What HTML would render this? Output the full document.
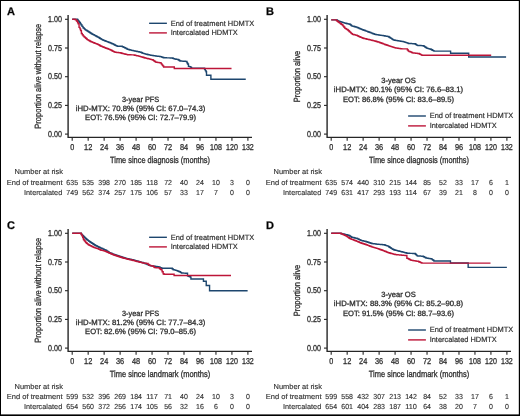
<!DOCTYPE html>
<html><head><meta charset="utf-8"><style>
html,body{margin:0;padding:0;background:#fff;overflow:hidden;}
svg{display:block;will-change:transform;}
text{font-family:"Liberation Sans", sans-serif;stroke:#2e2e2e;stroke-width:0.3px;text-rendering:geometricPrecision;}
.tt{stroke-width:0.12px;}
.tl{stroke-width:0.18px;}
</style></head><body>
<svg width="520" height="416" viewBox="0 0 520 416">
<rect x="0" y="0" width="520" height="416" fill="#000"/>
<rect x="1" y="1" width="517.8" height="413.4" fill="#fff"/>
<text x="6.90" y="14.90" font-size="11" font-weight="bold" fill="#000">A</text>
<path d="M68.10,15.00V137.40H252.00" fill="none" stroke="#262626" stroke-width="1.4"/>
<path d="M65.00,134.10H68" stroke="#262626" stroke-width="1.1"/>
<text x="61.90" y="136.70" font-size="8.6" text-anchor="end" textLength="13.9" lengthAdjust="spacingAndGlyphs" fill="#2e2e2e">0.00</text>
<path d="M65.00,105.40H68" stroke="#262626" stroke-width="1.1"/>
<text x="61.90" y="108.00" font-size="8.6" text-anchor="end" textLength="13.9" lengthAdjust="spacingAndGlyphs" fill="#2e2e2e">0.25</text>
<path d="M65.00,76.70H68" stroke="#262626" stroke-width="1.1"/>
<text x="61.90" y="79.30" font-size="8.6" text-anchor="end" textLength="13.9" lengthAdjust="spacingAndGlyphs" fill="#2e2e2e">0.50</text>
<path d="M65.00,48.00H68" stroke="#262626" stroke-width="1.1"/>
<text x="61.90" y="50.60" font-size="8.6" text-anchor="end" textLength="13.9" lengthAdjust="spacingAndGlyphs" fill="#2e2e2e">0.75</text>
<path d="M65.00,19.30H68" stroke="#262626" stroke-width="1.1"/>
<text x="61.90" y="21.90" font-size="8.6" text-anchor="end" textLength="13.9" lengthAdjust="spacingAndGlyphs" fill="#2e2e2e">1.00</text>
<path d="M72.20,137.40V140.70" stroke="#262626" stroke-width="1.1"/>
<text x="72.20" y="149.50" font-size="8.5" text-anchor="middle" textLength="4.0" lengthAdjust="spacingAndGlyphs" fill="#2e2e2e">0</text>
<path d="M88.17,137.40V140.70" stroke="#262626" stroke-width="1.1"/>
<text x="88.17" y="149.50" font-size="8.5" text-anchor="middle" textLength="8.2" lengthAdjust="spacingAndGlyphs" fill="#2e2e2e">12</text>
<path d="M104.14,137.40V140.70" stroke="#262626" stroke-width="1.1"/>
<text x="104.14" y="149.50" font-size="8.5" text-anchor="middle" textLength="8.2" lengthAdjust="spacingAndGlyphs" fill="#2e2e2e">24</text>
<path d="M120.12,137.40V140.70" stroke="#262626" stroke-width="1.1"/>
<text x="120.12" y="149.50" font-size="8.5" text-anchor="middle" textLength="8.2" lengthAdjust="spacingAndGlyphs" fill="#2e2e2e">36</text>
<path d="M136.09,137.40V140.70" stroke="#262626" stroke-width="1.1"/>
<text x="136.09" y="149.50" font-size="8.5" text-anchor="middle" textLength="8.2" lengthAdjust="spacingAndGlyphs" fill="#2e2e2e">48</text>
<path d="M152.06,137.40V140.70" stroke="#262626" stroke-width="1.1"/>
<text x="152.06" y="149.50" font-size="8.5" text-anchor="middle" textLength="8.2" lengthAdjust="spacingAndGlyphs" fill="#2e2e2e">60</text>
<path d="M168.03,137.40V140.70" stroke="#262626" stroke-width="1.1"/>
<text x="168.03" y="149.50" font-size="8.5" text-anchor="middle" textLength="8.2" lengthAdjust="spacingAndGlyphs" fill="#2e2e2e">72</text>
<path d="M184.00,137.40V140.70" stroke="#262626" stroke-width="1.1"/>
<text x="184.00" y="149.50" font-size="8.5" text-anchor="middle" textLength="8.2" lengthAdjust="spacingAndGlyphs" fill="#2e2e2e">84</text>
<path d="M199.98,137.40V140.70" stroke="#262626" stroke-width="1.1"/>
<text x="199.98" y="149.50" font-size="8.5" text-anchor="middle" textLength="8.2" lengthAdjust="spacingAndGlyphs" fill="#2e2e2e">96</text>
<path d="M215.95,137.40V140.70" stroke="#262626" stroke-width="1.1"/>
<text x="215.95" y="149.50" font-size="8.5" text-anchor="middle" textLength="11.8" lengthAdjust="spacingAndGlyphs" fill="#2e2e2e">108</text>
<path d="M231.92,137.40V140.70" stroke="#262626" stroke-width="1.1"/>
<text x="231.92" y="149.50" font-size="8.5" text-anchor="middle" textLength="11.8" lengthAdjust="spacingAndGlyphs" fill="#2e2e2e">120</text>
<path d="M247.89,137.40V140.70" stroke="#262626" stroke-width="1.1"/>
<text x="247.89" y="149.50" font-size="8.5" text-anchor="middle" textLength="11.8" lengthAdjust="spacingAndGlyphs" fill="#2e2e2e">132</text>
<text x="160.00" y="162.90" font-size="9" text-anchor="middle" textLength="99.8" lengthAdjust="spacingAndGlyphs" fill="#2e2e2e">Time since diagnosis (months)</text>
<text transform="translate(40.90,76.20) rotate(-90)" font-size="9" text-anchor="middle" textLength="105.0" lengthAdjust="spacingAndGlyphs" fill="#2e2e2e">Proportion alive without relapse</text>
<text x="140.60" y="101.90" font-size="7.7" text-anchor="middle" textLength="37.2" lengthAdjust="spacingAndGlyphs" fill="#2e2e2e">3-year PFS</text>
<text x="140.60" y="110.90" font-size="7.7" text-anchor="middle" textLength="129.6" lengthAdjust="spacingAndGlyphs" fill="#2e2e2e">iHD-MTX: 70.8% (95% CI: 67.0–74.3)</text>
<text x="140.60" y="120.00" font-size="7.7" text-anchor="middle" textLength="111.1" lengthAdjust="spacingAndGlyphs" fill="#2e2e2e">EOT: 76.5% (95% CI: 72.7–79.9)</text>
<path d="M72.20,19.30H77.26H77.56V20.05H78.16V20.79H78.46H78.86V21.77H79.65V22.74H80.05H80.42V23.89H81.15V25.04H81.52H82.02V26.36H83.01V27.68H83.51H83.98V28.66H84.91V29.63H85.38H85.76V30.09H86.52V30.55H87.29V31.01H88.06V31.47H88.44H88.82V31.99H89.59V32.50H90.35V33.02H91.12V33.54H91.50H91.88V33.94H92.65V34.34H93.41V34.74H94.18V35.14H94.56H94.96V35.58H95.76V36.01H96.56V36.45H97.36V36.89H98.15V37.32H98.55H98.93V37.78H99.67V38.24H100.42V38.70H101.16V39.16H101.91V39.62H102.28H102.72V40.00H103.61V40.39H104.50V40.77H104.94H105.33V41.05H106.11V41.34H106.88V41.63H107.66V41.92H108.44V42.20H109.21V42.49H109.60H109.98V42.80H110.75V43.12H111.51V43.43H112.28V43.75H112.66H113.05V44.15H113.83V44.56H114.60V44.96H115.38V45.36H116.16V45.76H116.93V46.16H117.32H117.70V46.19H118.45V46.20H119.21V46.22H119.96V46.24H120.71V46.26H121.47V46.28H121.85H122.25V46.65H123.04V47.02H123.84V47.40H124.64V47.77H125.04H125.42V48.17H126.19V48.57H126.95V48.98H127.72V49.38H128.10H128.49V49.57H129.27V49.76H130.04V49.95H130.82V50.15H131.60V50.33H132.37V50.53H132.76H133.14V50.67H133.89V50.84H134.65V50.98H135.40V51.13H136.15V51.29H136.91V51.44H137.29H137.67V51.60H138.44V51.77H139.22V51.93H139.99V52.09H140.76V52.25H141.15H141.55V52.71H142.34V53.17H142.74H143.16V53.40H143.98V53.63H144.81V53.85H145.63V54.08H146.46V54.31H146.87H147.32V54.52H148.22V54.72H149.12V54.92H150.01V55.12H150.46H150.86V55.24H151.66V55.38H152.46V55.51H153.26V55.65H154.06V55.77H154.86V55.91H155.65V56.04H156.05H156.45V56.13H157.25V56.23H158.05V56.32H158.85V56.41H159.65V56.52H160.45V56.61H160.84H161.26V56.90H162.09V57.18H162.92V57.47H163.76V57.76H164.17H164.58V57.78H165.39V57.80H166.20V57.83H167.01V57.85H167.83V57.87H168.64V57.90H169.45V57.92H170.26V57.94H171.07V57.96H171.89V57.99H172.29H172.67V58.30H173.42V58.60H174.18V58.91H174.55H175.00V59.04H175.90V59.19H176.80V59.34H177.70V59.48H178.15H178.52V59.97H179.28V60.48H180.03V60.97H180.41H180.80V61.03H181.58V61.09H182.37V61.14H183.15V61.20H183.93V61.26H184.71V61.32H185.49V61.37H186.28V61.43H186.67H186.97V62.75H187.56V64.07H187.86H188.46V66.37H189.06H189.46V66.60H190.26V66.83H190.66H190.96V67.52H191.56V68.20H191.86H204.24H204.59V69.39H205.30V70.58H206.01V71.76H206.36H206.50V75.21H206.63H210.89H210.89V79.23H245.76" fill="none" stroke="#1d466e" stroke-width="1.4" stroke-linejoin="miter"/>
<path d="M72.20,19.30H74.60H74.90V19.47H75.49V19.64H75.79H76.16V20.45H76.89V21.25H77.26H77.56V22.51H78.16V23.78H78.46H79.05V27.34H79.65H79.95V28.89H80.55V30.44H80.85H81.38V33.54H81.92H82.32V34.68H83.11V35.83H83.51H83.98V36.75H84.91V37.67H85.38H85.75V38.32H86.51V38.97H87.26V39.62H87.64H88.04V40.08H88.84V40.54H89.64V41.00H90.43V41.46H90.83H91.21V41.78H91.95V42.10H92.70V42.42H93.44V42.74H94.19V43.06H94.56H94.96V43.35H95.76V43.64H96.56V43.92H97.36V44.21H97.76H98.14V44.65H98.90V45.07H99.67V45.50H100.43V45.93H100.82H101.23V46.28H102.05V46.62H102.88V46.97H103.70V47.31H104.53V47.66H104.94H105.33V47.94H106.11V48.23H106.88V48.52H107.66V48.80H108.44V49.09H109.21V49.38H109.60H109.99V49.77H110.77V50.17H111.55V50.56H112.33V50.95H113.11V51.34H113.89V51.74H114.67V52.13H115.06H115.44V52.24H116.20V52.33H116.96V52.43H117.72V52.52H118.48V52.63H119.24V52.72H120.00V52.82H120.38H120.77V53.03H121.54V53.23H122.31V53.44H123.08V53.65H123.86V53.85H124.24H124.63V54.04H125.40V54.22H126.17V54.41H126.94V54.59H127.72V54.77H128.10H128.49V54.78H129.27V54.81H130.05V54.82H130.83V54.84H131.61V54.85H132.39V54.88H133.17V54.89H133.56H133.94V55.06H134.69V55.23H135.44V55.40H136.20V55.58H136.95V55.75H137.71V55.92H138.08H138.55V56.15H139.48V56.38H139.95H140.34V56.61H141.11V56.84H141.89V57.07H142.67V57.30H143.44V57.53H144.22V57.76H144.61H144.99V57.95H145.77V58.14H146.55V58.33H147.32V58.53H148.10V58.71H148.88V58.91H149.26H149.70V59.14H150.56V59.37H151.43V59.59H152.29V59.82H152.73H153.14V60.40H153.97V60.97H154.81V61.55H155.64V62.12H156.05H156.45V62.26H157.25V62.38H158.05V62.52H158.85V62.66H159.65V62.79H160.45V62.92H160.84H161.22V63.92H161.98V64.91H162.73V65.91H163.11H163.64V66.94H164.17H174.02H174.29V68.43H174.55H231.52" fill="none" stroke="#bd1538" stroke-width="1.4" stroke-linejoin="miter"/>
<path d="M149.10,23.30h17.8" stroke="#1d466e" stroke-width="1.4"/>
<path d="M149.10,32.90h17.8" stroke="#bd1538" stroke-width="1.4"/>
<text class="tl" x="170.70" y="25.60" font-size="7.6" textLength="83.6" lengthAdjust="spacingAndGlyphs" fill="#2e2e2e">End of treatment HDMTX</text>
<text class="tl" x="170.70" y="35.00" font-size="7.6" textLength="67.1" lengthAdjust="spacingAndGlyphs" fill="#2e2e2e">Intercalated HDMTX</text>
<text class="tt" x="63.00" y="173.80" font-size="7.3" text-anchor="end" textLength="48.5" lengthAdjust="spacingAndGlyphs" fill="#2e2e2e">Number at risk</text>
<text class="tt" x="62.60" y="184.50" font-size="7.3" text-anchor="end" textLength="55.9" lengthAdjust="spacingAndGlyphs" fill="#2e2e2e">End of treatment</text>
<text class="tt" x="62.20" y="194.80" font-size="7.3" text-anchor="end" textLength="38.2" lengthAdjust="spacingAndGlyphs" fill="#2e2e2e">Intercalated</text>
<text class="tt" x="72.20" y="184.50" font-size="7.3" text-anchor="middle" textLength="11.7" lengthAdjust="spacingAndGlyphs" fill="#2e2e2e">635</text>
<text class="tt" x="88.17" y="184.50" font-size="7.3" text-anchor="middle" textLength="11.7" lengthAdjust="spacingAndGlyphs" fill="#2e2e2e">535</text>
<text class="tt" x="104.14" y="184.50" font-size="7.3" text-anchor="middle" textLength="11.7" lengthAdjust="spacingAndGlyphs" fill="#2e2e2e">398</text>
<text class="tt" x="120.12" y="184.50" font-size="7.3" text-anchor="middle" textLength="11.7" lengthAdjust="spacingAndGlyphs" fill="#2e2e2e">270</text>
<text class="tt" x="136.09" y="184.50" font-size="7.3" text-anchor="middle" textLength="11.7" lengthAdjust="spacingAndGlyphs" fill="#2e2e2e">185</text>
<text class="tt" x="152.06" y="184.50" font-size="7.3" text-anchor="middle" textLength="11.7" lengthAdjust="spacingAndGlyphs" fill="#2e2e2e">118</text>
<text class="tt" x="168.03" y="184.50" font-size="7.3" text-anchor="middle" textLength="7.8" lengthAdjust="spacingAndGlyphs" fill="#2e2e2e">72</text>
<text class="tt" x="184.00" y="184.50" font-size="7.3" text-anchor="middle" textLength="7.8" lengthAdjust="spacingAndGlyphs" fill="#2e2e2e">40</text>
<text class="tt" x="199.98" y="184.50" font-size="7.3" text-anchor="middle" textLength="7.8" lengthAdjust="spacingAndGlyphs" fill="#2e2e2e">24</text>
<text class="tt" x="215.95" y="184.50" font-size="7.3" text-anchor="middle" textLength="7.8" lengthAdjust="spacingAndGlyphs" fill="#2e2e2e">10</text>
<text class="tt" x="231.92" y="184.50" font-size="7.3" text-anchor="middle" textLength="3.9" lengthAdjust="spacingAndGlyphs" fill="#2e2e2e">3</text>
<text class="tt" x="247.89" y="184.50" font-size="7.3" text-anchor="middle" textLength="3.9" lengthAdjust="spacingAndGlyphs" fill="#2e2e2e">0</text>
<text class="tt" x="72.20" y="194.80" font-size="7.3" text-anchor="middle" textLength="11.7" lengthAdjust="spacingAndGlyphs" fill="#2e2e2e">749</text>
<text class="tt" x="88.17" y="194.80" font-size="7.3" text-anchor="middle" textLength="11.7" lengthAdjust="spacingAndGlyphs" fill="#2e2e2e">562</text>
<text class="tt" x="104.14" y="194.80" font-size="7.3" text-anchor="middle" textLength="11.7" lengthAdjust="spacingAndGlyphs" fill="#2e2e2e">374</text>
<text class="tt" x="120.12" y="194.80" font-size="7.3" text-anchor="middle" textLength="11.7" lengthAdjust="spacingAndGlyphs" fill="#2e2e2e">257</text>
<text class="tt" x="136.09" y="194.80" font-size="7.3" text-anchor="middle" textLength="11.7" lengthAdjust="spacingAndGlyphs" fill="#2e2e2e">175</text>
<text class="tt" x="152.06" y="194.80" font-size="7.3" text-anchor="middle" textLength="11.7" lengthAdjust="spacingAndGlyphs" fill="#2e2e2e">106</text>
<text class="tt" x="168.03" y="194.80" font-size="7.3" text-anchor="middle" textLength="7.8" lengthAdjust="spacingAndGlyphs" fill="#2e2e2e">57</text>
<text class="tt" x="184.00" y="194.80" font-size="7.3" text-anchor="middle" textLength="7.8" lengthAdjust="spacingAndGlyphs" fill="#2e2e2e">33</text>
<text class="tt" x="199.98" y="194.80" font-size="7.3" text-anchor="middle" textLength="7.8" lengthAdjust="spacingAndGlyphs" fill="#2e2e2e">17</text>
<text class="tt" x="215.95" y="194.80" font-size="7.3" text-anchor="middle" textLength="3.9" lengthAdjust="spacingAndGlyphs" fill="#2e2e2e">7</text>
<text class="tt" x="231.92" y="194.80" font-size="7.3" text-anchor="middle" textLength="3.9" lengthAdjust="spacingAndGlyphs" fill="#2e2e2e">0</text>
<text class="tt" x="247.89" y="194.80" font-size="7.3" text-anchor="middle" textLength="3.9" lengthAdjust="spacingAndGlyphs" fill="#2e2e2e">0</text>
<text x="265.90" y="14.90" font-size="11" font-weight="bold" fill="#000">B</text>
<path d="M327.10,15.00V137.40H511.00" fill="none" stroke="#262626" stroke-width="1.4"/>
<path d="M324.00,134.10H327" stroke="#262626" stroke-width="1.1"/>
<text x="320.90" y="136.70" font-size="8.6" text-anchor="end" textLength="13.9" lengthAdjust="spacingAndGlyphs" fill="#2e2e2e">0.00</text>
<path d="M324.00,105.40H327" stroke="#262626" stroke-width="1.1"/>
<text x="320.90" y="108.00" font-size="8.6" text-anchor="end" textLength="13.9" lengthAdjust="spacingAndGlyphs" fill="#2e2e2e">0.25</text>
<path d="M324.00,76.70H327" stroke="#262626" stroke-width="1.1"/>
<text x="320.90" y="79.30" font-size="8.6" text-anchor="end" textLength="13.9" lengthAdjust="spacingAndGlyphs" fill="#2e2e2e">0.50</text>
<path d="M324.00,48.00H327" stroke="#262626" stroke-width="1.1"/>
<text x="320.90" y="50.60" font-size="8.6" text-anchor="end" textLength="13.9" lengthAdjust="spacingAndGlyphs" fill="#2e2e2e">0.75</text>
<path d="M324.00,19.30H327" stroke="#262626" stroke-width="1.1"/>
<text x="320.90" y="21.90" font-size="8.6" text-anchor="end" textLength="13.9" lengthAdjust="spacingAndGlyphs" fill="#2e2e2e">1.00</text>
<path d="M331.20,137.40V140.70" stroke="#262626" stroke-width="1.1"/>
<text x="331.20" y="149.50" font-size="8.5" text-anchor="middle" textLength="4.0" lengthAdjust="spacingAndGlyphs" fill="#2e2e2e">0</text>
<path d="M347.17,137.40V140.70" stroke="#262626" stroke-width="1.1"/>
<text x="347.17" y="149.50" font-size="8.5" text-anchor="middle" textLength="8.2" lengthAdjust="spacingAndGlyphs" fill="#2e2e2e">12</text>
<path d="M363.14,137.40V140.70" stroke="#262626" stroke-width="1.1"/>
<text x="363.14" y="149.50" font-size="8.5" text-anchor="middle" textLength="8.2" lengthAdjust="spacingAndGlyphs" fill="#2e2e2e">24</text>
<path d="M379.12,137.40V140.70" stroke="#262626" stroke-width="1.1"/>
<text x="379.12" y="149.50" font-size="8.5" text-anchor="middle" textLength="8.2" lengthAdjust="spacingAndGlyphs" fill="#2e2e2e">36</text>
<path d="M395.09,137.40V140.70" stroke="#262626" stroke-width="1.1"/>
<text x="395.09" y="149.50" font-size="8.5" text-anchor="middle" textLength="8.2" lengthAdjust="spacingAndGlyphs" fill="#2e2e2e">48</text>
<path d="M411.06,137.40V140.70" stroke="#262626" stroke-width="1.1"/>
<text x="411.06" y="149.50" font-size="8.5" text-anchor="middle" textLength="8.2" lengthAdjust="spacingAndGlyphs" fill="#2e2e2e">60</text>
<path d="M427.03,137.40V140.70" stroke="#262626" stroke-width="1.1"/>
<text x="427.03" y="149.50" font-size="8.5" text-anchor="middle" textLength="8.2" lengthAdjust="spacingAndGlyphs" fill="#2e2e2e">72</text>
<path d="M443.00,137.40V140.70" stroke="#262626" stroke-width="1.1"/>
<text x="443.00" y="149.50" font-size="8.5" text-anchor="middle" textLength="8.2" lengthAdjust="spacingAndGlyphs" fill="#2e2e2e">84</text>
<path d="M458.98,137.40V140.70" stroke="#262626" stroke-width="1.1"/>
<text x="458.98" y="149.50" font-size="8.5" text-anchor="middle" textLength="8.2" lengthAdjust="spacingAndGlyphs" fill="#2e2e2e">96</text>
<path d="M474.95,137.40V140.70" stroke="#262626" stroke-width="1.1"/>
<text x="474.95" y="149.50" font-size="8.5" text-anchor="middle" textLength="11.8" lengthAdjust="spacingAndGlyphs" fill="#2e2e2e">108</text>
<path d="M490.92,137.40V140.70" stroke="#262626" stroke-width="1.1"/>
<text x="490.92" y="149.50" font-size="8.5" text-anchor="middle" textLength="11.8" lengthAdjust="spacingAndGlyphs" fill="#2e2e2e">120</text>
<path d="M506.89,137.40V140.70" stroke="#262626" stroke-width="1.1"/>
<text x="506.89" y="149.50" font-size="8.5" text-anchor="middle" textLength="11.8" lengthAdjust="spacingAndGlyphs" fill="#2e2e2e">132</text>
<text x="419.00" y="162.90" font-size="9" text-anchor="middle" textLength="99.8" lengthAdjust="spacingAndGlyphs" fill="#2e2e2e">Time since diagnosis (months)</text>
<text transform="translate(299.90,76.50) rotate(-90)" font-size="9" text-anchor="middle" textLength="51.5" lengthAdjust="spacingAndGlyphs" fill="#2e2e2e">Proportion alive</text>
<text x="398.50" y="83.10" font-size="7.7" text-anchor="middle" textLength="34.6" lengthAdjust="spacingAndGlyphs" fill="#2e2e2e">3-year OS</text>
<text x="398.50" y="92.30" font-size="7.7" text-anchor="middle" textLength="129.3" lengthAdjust="spacingAndGlyphs" fill="#2e2e2e">iHD-MTX: 80.1% (95% CI: 76.6–83.1)</text>
<text x="398.50" y="101.50" font-size="7.7" text-anchor="middle" textLength="111.1" lengthAdjust="spacingAndGlyphs" fill="#2e2e2e">EOT: 86.8% (95% CI: 83.6–89.5)</text>
<path d="M331.20,19.90H337.46H337.46V20.82H337.84V21.03H338.61V21.23H339.39V21.44H340.16V21.64H340.93V21.85H341.32H341.70V22.10H342.47V22.36H343.25V22.61H344.02V22.86H344.79V23.11H345.18H345.57V23.31H346.37V23.49H347.17V23.69H347.97V23.88H348.77V24.07H349.57V24.26H349.97H350.47V25.07H351.46V25.87H351.96H352.36V26.08H353.16V26.29H353.96V26.50H354.76V26.71H355.56V26.93H356.36V27.13H356.76H357.12V27.48H357.85V27.82H358.59V28.17H359.32V28.51H359.68H360.07V28.81H360.84V29.11H361.61V29.41H362.39V29.70H363.16V30.00H363.54H363.93V30.28H364.70V30.55H365.47V30.83H366.25V31.10H367.02V31.38H367.40H367.79V31.68H368.56V31.98H369.33V32.28H370.11V32.57H370.88V32.87H371.26H371.65V33.17H372.42V33.47H373.19V33.77H373.97V34.07H374.74V34.36H375.12H375.52V34.50H376.32V34.64H377.12V34.78H377.92V34.92H378.72V35.05H379.12H379.48V35.15H380.19V35.24H380.91V35.33H381.63V35.42H382.35V35.51H382.71H383.12V35.66H383.94V35.81H384.75V35.96H385.57V36.10H386.39V36.25H387.21V36.40H388.02V36.55H388.43H388.80V37.01H389.53V37.46H390.26V37.92H391.00V38.38H391.36H391.72V38.88H392.43V39.38H393.14V39.88H393.49H393.88V40.02H394.66V40.19H395.43V40.33H396.21V40.48H396.98V40.64H397.76V40.79H398.15H398.53V40.91H399.29V41.02H400.05V41.14H400.81V41.25H401.57V41.37H402.33V41.48H403.09V41.60H403.47H403.85V41.86H404.61V42.13H405.37V42.39H406.14V42.64H406.90V42.91H407.66V43.17H408.42V43.43H408.80H409.18V43.48H409.95V43.51H410.71V43.56H411.48V43.61H412.24V43.65H413.01V43.69H413.77V43.73H414.54V43.78H414.92H415.36V44.32H416.25V44.85H417.14V45.39H417.58H417.96V45.43H418.70V45.48H419.45V45.51H420.20V45.56H420.95V45.60H421.70V45.64H422.45V45.68H423.20V45.73H423.57H424.00V46.33H424.87V46.94H425.73V47.54H426.60V48.14H427.03H427.43V48.37H428.23V48.60H429.03V48.83H429.83V49.06H430.63V49.29H431.02H431.44V49.75H432.27V50.21H433.10V50.67H433.94V51.13H434.35H450.59H450.59V53.31H468.69H468.69V56.98H506.09" fill="none" stroke="#1d466e" stroke-width="1.4" stroke-linejoin="miter"/>
<path d="M331.20,19.90H335.99H336.42V20.59H337.29V21.28H338.15V21.97H339.02V22.66H339.45H339.82V23.17H340.55V23.69H341.28V24.20H342.01V24.72H342.38H342.85V25.87H343.78V27.02H344.71V28.17H345.18H345.54V28.62H346.27V29.08H347.01V29.54H347.74V30.00H348.10H348.47V30.71H349.20V31.44H349.93V32.16H350.67V32.87H351.03H351.50V33.62H352.43V34.36H352.90H353.28V34.55H354.05V34.73H354.83V34.92H355.60V35.10H356.37V35.28H356.76H357.12V35.65H357.85V36.03H358.59V36.41H359.32V36.78H359.68H360.07V37.07H360.84V37.37H361.61V37.67H362.39V37.97H363.16V38.27H363.54H363.93V38.45H364.70V38.64H365.47V38.82H366.25V39.00H367.02V39.19H367.40H367.79V39.37H368.56V39.55H369.33V39.74H370.11V39.92H370.88V40.10H371.26H371.65V40.29H372.42V40.47H373.19V40.66H373.97V40.84H374.74V41.02H375.12H375.52V41.25H376.32V41.48H377.12V41.71H377.92V41.94H378.72V42.17H379.12H379.48V42.45H380.19V42.72H380.91V43.00H381.63V43.27H382.35V43.55H382.71H383.12V43.85H383.94V44.13H384.75V44.43H385.57V44.73H386.39V45.03H387.21V45.32H388.02V45.62H388.43H388.82V45.87H389.61V46.12H390.39V46.38H391.18V46.64H391.96V46.89H392.74V47.14H393.53V47.41H394.31V47.66H395.10V47.91H395.49H395.90V48.03H396.74V48.14H397.57V48.26H398.40V48.37H399.23V48.49H400.06V48.60H400.89V48.71H401.73V48.83H402.14H406.93H407.40V49.98H408.33V51.13H408.80H409.21V51.47H410.04V51.81H410.86V52.16H411.69V52.50H412.51V52.85H412.92H413.30V52.94H414.05V53.02H414.80V53.11H415.54V53.19H416.29V53.28H417.04V53.36H417.79V53.46H418.54V53.54H418.91H419.35V53.97H420.21V54.40H421.08V54.83H421.94V55.26H422.37H491.19" fill="none" stroke="#bd1538" stroke-width="1.4" stroke-linejoin="miter"/>
<path d="M408.10,116.00h17.8" stroke="#1d466e" stroke-width="1.4"/>
<path d="M408.10,125.90h17.8" stroke="#bd1538" stroke-width="1.4"/>
<text class="tl" x="429.70" y="118.30" font-size="7.6" textLength="83.6" lengthAdjust="spacingAndGlyphs" fill="#2e2e2e">End of treatment HDMTX</text>
<text class="tl" x="429.70" y="128.00" font-size="7.6" textLength="67.1" lengthAdjust="spacingAndGlyphs" fill="#2e2e2e">Intercalated HDMTX</text>
<text class="tt" x="322.00" y="173.80" font-size="7.3" text-anchor="end" textLength="48.5" lengthAdjust="spacingAndGlyphs" fill="#2e2e2e">Number at risk</text>
<text class="tt" x="321.60" y="184.50" font-size="7.3" text-anchor="end" textLength="55.9" lengthAdjust="spacingAndGlyphs" fill="#2e2e2e">End of treatment</text>
<text class="tt" x="321.20" y="194.80" font-size="7.3" text-anchor="end" textLength="38.2" lengthAdjust="spacingAndGlyphs" fill="#2e2e2e">Intercalated</text>
<text class="tt" x="331.20" y="184.50" font-size="7.3" text-anchor="middle" textLength="11.7" lengthAdjust="spacingAndGlyphs" fill="#2e2e2e">635</text>
<text class="tt" x="347.17" y="184.50" font-size="7.3" text-anchor="middle" textLength="11.7" lengthAdjust="spacingAndGlyphs" fill="#2e2e2e">574</text>
<text class="tt" x="363.14" y="184.50" font-size="7.3" text-anchor="middle" textLength="11.7" lengthAdjust="spacingAndGlyphs" fill="#2e2e2e">440</text>
<text class="tt" x="379.12" y="184.50" font-size="7.3" text-anchor="middle" textLength="11.7" lengthAdjust="spacingAndGlyphs" fill="#2e2e2e">310</text>
<text class="tt" x="395.09" y="184.50" font-size="7.3" text-anchor="middle" textLength="11.7" lengthAdjust="spacingAndGlyphs" fill="#2e2e2e">215</text>
<text class="tt" x="411.06" y="184.50" font-size="7.3" text-anchor="middle" textLength="11.7" lengthAdjust="spacingAndGlyphs" fill="#2e2e2e">144</text>
<text class="tt" x="427.03" y="184.50" font-size="7.3" text-anchor="middle" textLength="7.8" lengthAdjust="spacingAndGlyphs" fill="#2e2e2e">85</text>
<text class="tt" x="443.00" y="184.50" font-size="7.3" text-anchor="middle" textLength="7.8" lengthAdjust="spacingAndGlyphs" fill="#2e2e2e">52</text>
<text class="tt" x="458.98" y="184.50" font-size="7.3" text-anchor="middle" textLength="7.8" lengthAdjust="spacingAndGlyphs" fill="#2e2e2e">33</text>
<text class="tt" x="474.95" y="184.50" font-size="7.3" text-anchor="middle" textLength="7.8" lengthAdjust="spacingAndGlyphs" fill="#2e2e2e">17</text>
<text class="tt" x="490.92" y="184.50" font-size="7.3" text-anchor="middle" textLength="3.9" lengthAdjust="spacingAndGlyphs" fill="#2e2e2e">6</text>
<text class="tt" x="506.89" y="184.50" font-size="7.3" text-anchor="middle" textLength="3.9" lengthAdjust="spacingAndGlyphs" fill="#2e2e2e">1</text>
<text class="tt" x="331.20" y="194.80" font-size="7.3" text-anchor="middle" textLength="11.7" lengthAdjust="spacingAndGlyphs" fill="#2e2e2e">749</text>
<text class="tt" x="347.17" y="194.80" font-size="7.3" text-anchor="middle" textLength="11.7" lengthAdjust="spacingAndGlyphs" fill="#2e2e2e">631</text>
<text class="tt" x="363.14" y="194.80" font-size="7.3" text-anchor="middle" textLength="11.7" lengthAdjust="spacingAndGlyphs" fill="#2e2e2e">417</text>
<text class="tt" x="379.12" y="194.80" font-size="7.3" text-anchor="middle" textLength="11.7" lengthAdjust="spacingAndGlyphs" fill="#2e2e2e">293</text>
<text class="tt" x="395.09" y="194.80" font-size="7.3" text-anchor="middle" textLength="11.7" lengthAdjust="spacingAndGlyphs" fill="#2e2e2e">193</text>
<text class="tt" x="411.06" y="194.80" font-size="7.3" text-anchor="middle" textLength="11.7" lengthAdjust="spacingAndGlyphs" fill="#2e2e2e">114</text>
<text class="tt" x="427.03" y="194.80" font-size="7.3" text-anchor="middle" textLength="7.8" lengthAdjust="spacingAndGlyphs" fill="#2e2e2e">67</text>
<text class="tt" x="443.00" y="194.80" font-size="7.3" text-anchor="middle" textLength="7.8" lengthAdjust="spacingAndGlyphs" fill="#2e2e2e">39</text>
<text class="tt" x="458.98" y="194.80" font-size="7.3" text-anchor="middle" textLength="7.8" lengthAdjust="spacingAndGlyphs" fill="#2e2e2e">21</text>
<text class="tt" x="474.95" y="194.80" font-size="7.3" text-anchor="middle" textLength="3.9" lengthAdjust="spacingAndGlyphs" fill="#2e2e2e">8</text>
<text class="tt" x="490.92" y="194.80" font-size="7.3" text-anchor="middle" textLength="3.9" lengthAdjust="spacingAndGlyphs" fill="#2e2e2e">0</text>
<text class="tt" x="506.89" y="194.80" font-size="7.3" text-anchor="middle" textLength="3.9" lengthAdjust="spacingAndGlyphs" fill="#2e2e2e">0</text>
<text x="6.90" y="228.90" font-size="11" font-weight="bold" fill="#000">C</text>
<path d="M68.10,229.00V351.40H252.00" fill="none" stroke="#262626" stroke-width="1.4"/>
<path d="M65.00,348.10H68" stroke="#262626" stroke-width="1.1"/>
<text x="61.90" y="350.70" font-size="8.6" text-anchor="end" textLength="13.9" lengthAdjust="spacingAndGlyphs" fill="#2e2e2e">0.00</text>
<path d="M65.00,319.40H68" stroke="#262626" stroke-width="1.1"/>
<text x="61.90" y="322.00" font-size="8.6" text-anchor="end" textLength="13.9" lengthAdjust="spacingAndGlyphs" fill="#2e2e2e">0.25</text>
<path d="M65.00,290.70H68" stroke="#262626" stroke-width="1.1"/>
<text x="61.90" y="293.30" font-size="8.6" text-anchor="end" textLength="13.9" lengthAdjust="spacingAndGlyphs" fill="#2e2e2e">0.50</text>
<path d="M65.00,262.00H68" stroke="#262626" stroke-width="1.1"/>
<text x="61.90" y="264.60" font-size="8.6" text-anchor="end" textLength="13.9" lengthAdjust="spacingAndGlyphs" fill="#2e2e2e">0.75</text>
<path d="M65.00,233.30H68" stroke="#262626" stroke-width="1.1"/>
<text x="61.90" y="235.90" font-size="8.6" text-anchor="end" textLength="13.9" lengthAdjust="spacingAndGlyphs" fill="#2e2e2e">1.00</text>
<path d="M72.20,351.40V354.70" stroke="#262626" stroke-width="1.1"/>
<text x="72.20" y="363.50" font-size="8.5" text-anchor="middle" textLength="4.0" lengthAdjust="spacingAndGlyphs" fill="#2e2e2e">0</text>
<path d="M88.17,351.40V354.70" stroke="#262626" stroke-width="1.1"/>
<text x="88.17" y="363.50" font-size="8.5" text-anchor="middle" textLength="8.2" lengthAdjust="spacingAndGlyphs" fill="#2e2e2e">12</text>
<path d="M104.14,351.40V354.70" stroke="#262626" stroke-width="1.1"/>
<text x="104.14" y="363.50" font-size="8.5" text-anchor="middle" textLength="8.2" lengthAdjust="spacingAndGlyphs" fill="#2e2e2e">24</text>
<path d="M120.12,351.40V354.70" stroke="#262626" stroke-width="1.1"/>
<text x="120.12" y="363.50" font-size="8.5" text-anchor="middle" textLength="8.2" lengthAdjust="spacingAndGlyphs" fill="#2e2e2e">36</text>
<path d="M136.09,351.40V354.70" stroke="#262626" stroke-width="1.1"/>
<text x="136.09" y="363.50" font-size="8.5" text-anchor="middle" textLength="8.2" lengthAdjust="spacingAndGlyphs" fill="#2e2e2e">48</text>
<path d="M152.06,351.40V354.70" stroke="#262626" stroke-width="1.1"/>
<text x="152.06" y="363.50" font-size="8.5" text-anchor="middle" textLength="8.2" lengthAdjust="spacingAndGlyphs" fill="#2e2e2e">60</text>
<path d="M168.03,351.40V354.70" stroke="#262626" stroke-width="1.1"/>
<text x="168.03" y="363.50" font-size="8.5" text-anchor="middle" textLength="8.2" lengthAdjust="spacingAndGlyphs" fill="#2e2e2e">72</text>
<path d="M184.00,351.40V354.70" stroke="#262626" stroke-width="1.1"/>
<text x="184.00" y="363.50" font-size="8.5" text-anchor="middle" textLength="8.2" lengthAdjust="spacingAndGlyphs" fill="#2e2e2e">84</text>
<path d="M199.98,351.40V354.70" stroke="#262626" stroke-width="1.1"/>
<text x="199.98" y="363.50" font-size="8.5" text-anchor="middle" textLength="8.2" lengthAdjust="spacingAndGlyphs" fill="#2e2e2e">96</text>
<path d="M215.95,351.40V354.70" stroke="#262626" stroke-width="1.1"/>
<text x="215.95" y="363.50" font-size="8.5" text-anchor="middle" textLength="11.8" lengthAdjust="spacingAndGlyphs" fill="#2e2e2e">108</text>
<path d="M231.92,351.40V354.70" stroke="#262626" stroke-width="1.1"/>
<text x="231.92" y="363.50" font-size="8.5" text-anchor="middle" textLength="11.8" lengthAdjust="spacingAndGlyphs" fill="#2e2e2e">120</text>
<path d="M247.89,351.40V354.70" stroke="#262626" stroke-width="1.1"/>
<text x="247.89" y="363.50" font-size="8.5" text-anchor="middle" textLength="11.8" lengthAdjust="spacingAndGlyphs" fill="#2e2e2e">132</text>
<text x="160.00" y="376.90" font-size="9" text-anchor="middle" textLength="100.4" lengthAdjust="spacingAndGlyphs" fill="#2e2e2e">Time since landmark (months)</text>
<text transform="translate(40.90,290.20) rotate(-90)" font-size="9" text-anchor="middle" textLength="105.0" lengthAdjust="spacingAndGlyphs" fill="#2e2e2e">Proportion alive without relapse</text>
<text x="140.60" y="315.90" font-size="7.7" text-anchor="middle" textLength="37.2" lengthAdjust="spacingAndGlyphs" fill="#2e2e2e">3-year PFS</text>
<text x="140.60" y="324.90" font-size="7.7" text-anchor="middle" textLength="129.6" lengthAdjust="spacingAndGlyphs" fill="#2e2e2e">iHD-MTX: 81.2% (95% CI: 77.7–84.3)</text>
<text x="140.60" y="334.00" font-size="7.7" text-anchor="middle" textLength="111.1" lengthAdjust="spacingAndGlyphs" fill="#2e2e2e">EOT: 82.6% (95% CI: 79.0–85.6)</text>
<path d="M72.20,233.30H80.85H81.22V234.10H81.95V234.91H82.32H82.69V235.68H83.45V236.43H84.20V237.20H84.58H84.98V237.97H85.78V238.73H86.57V239.50H86.97H87.36V240.07H88.12V240.65H88.89V241.22H89.65V241.80H90.04H90.42V242.28H91.18V242.77H91.95V243.25H92.71V243.75H93.10H93.48V244.23H94.24V244.72H95.01V245.22H95.78V245.70H96.16H96.54V246.07H97.31V246.44H98.07V246.82H98.84V247.19H99.22H99.60V247.54H100.37V247.88H101.13V248.22H101.90V248.57H102.28H102.67V248.91H103.44V249.26H104.21V249.60H104.98V249.95H105.75V250.29H106.14H106.57V250.86H107.44V251.44H108.30V252.01H109.17V252.59H109.60H109.99V252.91H110.77V253.24H111.54V253.56H112.32V253.88H113.09V254.22H113.87V254.54H114.26H114.64V254.79H115.39V255.03H116.15V255.28H116.90V255.54H117.65V255.78H118.41V256.03H118.78H119.17V256.28H119.95V256.52H120.73V256.78H121.50V257.03H122.28V257.27H123.06V257.52H123.44H123.83V257.73H124.61V257.95H125.38V258.15H126.16V258.36H126.94V258.58H127.71V258.79H128.10H128.49V258.95H129.26V259.11H130.03V259.27H130.80V259.43H131.58V259.59H131.96H132.35V259.80H133.12V260.00H133.89V260.21H134.66V260.42H135.44V260.62H135.82H136.19V260.83H136.94V261.04H137.69V261.24H138.43V261.45H139.18V261.66H139.55H139.95V261.89H140.75V262.11H141.55V262.34H142.34V262.57H142.74H143.16V262.86H143.99V263.15H144.82V263.44H145.65V263.72H146.07H146.48V264.11H147.31V264.50H148.13V264.89H148.96V265.28H149.78V265.67H150.20H150.58V265.77H151.36V265.87H152.14V265.96H152.91V266.05H153.69V266.16H154.47V266.25H154.86H155.27V266.39H156.09V266.52H156.92V266.66H157.74V266.80H158.57V266.94H158.98H159.40V267.28H160.23V267.63H161.06V267.97H161.89V268.31H162.31H171.76H172.26V269.00H173.26V269.69H173.76H174.17V269.92H175.00V270.15H175.83V270.38H176.67V270.61H177.08H177.43V270.90H178.13V271.18H178.83V271.47H179.53V271.76H179.88H180.38V272.39H181.38V273.02H181.87H182.25V273.06H183.02V273.09H183.78V273.12H184.54V273.15H185.30V273.18H186.06V273.22H186.82V273.25H187.20H187.53V275.78H187.86H188.33V276.20H189.26V276.61H190.19V277.04H190.66H190.93V278.99H191.19H203.44H203.44V281.29H206.23H206.23V285.53H209.56H209.56V290.81H247.63" fill="none" stroke="#1d466e" stroke-width="1.4" stroke-linejoin="miter"/>
<path d="M72.20,233.30H80.85H81.22V234.51H81.95V235.71H82.32H82.68V237.61H83.41V239.50H83.78H84.18V240.53H84.98V241.57H85.78V242.60H86.18H86.55V243.25H87.31V243.90H88.06V244.55H88.44H88.82V244.95H89.59V245.35H90.35V245.76H91.12V246.16H91.50H91.88V246.52H92.65V246.90H93.41V247.28H94.18V247.65H94.56H94.96V247.88H95.76V248.11H96.56V248.34H97.36V248.57H97.76H98.14V248.91H98.90V249.26H99.67V249.60H100.43V249.95H100.82H101.24V250.18H102.09V250.41H102.95V250.63H103.80V250.86H104.65V251.09H105.08H105.45V251.42H106.21V251.75H106.96V252.07H107.72V252.39H108.47V252.72H109.22V253.05H109.60H109.99V253.37H110.77V253.70H111.54V254.02H112.32V254.34H113.09V254.68H113.87V255.00H114.26H114.64V255.25H115.39V255.49H116.15V255.74H116.90V256.00H117.65V256.24H118.41V256.49H118.78H119.17V256.74H119.95V256.98H120.73V257.24H121.50V257.49H122.28V257.73H123.06V257.98H123.44H123.83V258.19H124.61V258.41H125.38V258.61H126.16V258.82H126.94V259.04H127.71V259.24H128.10H128.49V259.41H129.26V259.57H130.03V259.73H130.80V259.89H131.58V260.05H131.96H132.35V260.26H133.12V260.46H133.89V260.67H134.66V260.87H135.44V261.08H135.82H136.19V261.27H136.94V261.45H137.69V261.63H138.43V261.82H139.18V262.00H139.55H139.95V262.21H140.75V262.41H141.55V262.62H142.34V262.83H143.14V263.03H143.54H143.94V263.13H144.74V263.22H145.54V263.31H146.34V263.40H147.14V263.49H147.53H148.03V264.35H149.03V265.21H149.53H149.93V265.42H150.73V265.63H151.53V265.83H152.33V266.04H153.12V266.25H153.52H153.86V266.94H154.52V267.63H154.86H155.27V267.67H156.09V267.72H156.92V267.76H157.74V267.81H158.57V267.85H158.98H159.42V268.54H160.31V269.23H161.20V269.92H161.64H162.14V271.82H163.14V273.71H163.64H163.97V274.28H164.31H173.76H174.09V275.43H174.42H230.99" fill="none" stroke="#bd1538" stroke-width="1.4" stroke-linejoin="miter"/>
<path d="M149.10,237.30h17.8" stroke="#1d466e" stroke-width="1.4"/>
<path d="M149.10,246.90h17.8" stroke="#bd1538" stroke-width="1.4"/>
<text class="tl" x="170.70" y="239.60" font-size="7.6" textLength="83.6" lengthAdjust="spacingAndGlyphs" fill="#2e2e2e">End of treatment HDMTX</text>
<text class="tl" x="170.70" y="249.00" font-size="7.6" textLength="67.1" lengthAdjust="spacingAndGlyphs" fill="#2e2e2e">Intercalated HDMTX</text>
<text class="tt" x="63.00" y="388.60" font-size="7.3" text-anchor="end" textLength="48.5" lengthAdjust="spacingAndGlyphs" fill="#2e2e2e">Number at risk</text>
<text class="tt" x="62.60" y="399.00" font-size="7.3" text-anchor="end" textLength="55.9" lengthAdjust="spacingAndGlyphs" fill="#2e2e2e">End of treatment</text>
<text class="tt" x="62.20" y="408.80" font-size="7.3" text-anchor="end" textLength="38.2" lengthAdjust="spacingAndGlyphs" fill="#2e2e2e">Intercalated</text>
<text class="tt" x="72.20" y="399.00" font-size="7.3" text-anchor="middle" textLength="11.7" lengthAdjust="spacingAndGlyphs" fill="#2e2e2e">599</text>
<text class="tt" x="88.17" y="399.00" font-size="7.3" text-anchor="middle" textLength="11.7" lengthAdjust="spacingAndGlyphs" fill="#2e2e2e">532</text>
<text class="tt" x="104.14" y="399.00" font-size="7.3" text-anchor="middle" textLength="11.7" lengthAdjust="spacingAndGlyphs" fill="#2e2e2e">396</text>
<text class="tt" x="120.12" y="399.00" font-size="7.3" text-anchor="middle" textLength="11.7" lengthAdjust="spacingAndGlyphs" fill="#2e2e2e">269</text>
<text class="tt" x="136.09" y="399.00" font-size="7.3" text-anchor="middle" textLength="11.7" lengthAdjust="spacingAndGlyphs" fill="#2e2e2e">184</text>
<text class="tt" x="152.06" y="399.00" font-size="7.3" text-anchor="middle" textLength="11.7" lengthAdjust="spacingAndGlyphs" fill="#2e2e2e">117</text>
<text class="tt" x="168.03" y="399.00" font-size="7.3" text-anchor="middle" textLength="7.8" lengthAdjust="spacingAndGlyphs" fill="#2e2e2e">71</text>
<text class="tt" x="184.00" y="399.00" font-size="7.3" text-anchor="middle" textLength="7.8" lengthAdjust="spacingAndGlyphs" fill="#2e2e2e">40</text>
<text class="tt" x="199.98" y="399.00" font-size="7.3" text-anchor="middle" textLength="7.8" lengthAdjust="spacingAndGlyphs" fill="#2e2e2e">24</text>
<text class="tt" x="215.95" y="399.00" font-size="7.3" text-anchor="middle" textLength="7.8" lengthAdjust="spacingAndGlyphs" fill="#2e2e2e">10</text>
<text class="tt" x="231.92" y="399.00" font-size="7.3" text-anchor="middle" textLength="3.9" lengthAdjust="spacingAndGlyphs" fill="#2e2e2e">3</text>
<text class="tt" x="247.89" y="399.00" font-size="7.3" text-anchor="middle" textLength="3.9" lengthAdjust="spacingAndGlyphs" fill="#2e2e2e">0</text>
<text class="tt" x="72.20" y="408.80" font-size="7.3" text-anchor="middle" textLength="11.7" lengthAdjust="spacingAndGlyphs" fill="#2e2e2e">654</text>
<text class="tt" x="88.17" y="408.80" font-size="7.3" text-anchor="middle" textLength="11.7" lengthAdjust="spacingAndGlyphs" fill="#2e2e2e">560</text>
<text class="tt" x="104.14" y="408.80" font-size="7.3" text-anchor="middle" textLength="11.7" lengthAdjust="spacingAndGlyphs" fill="#2e2e2e">372</text>
<text class="tt" x="120.12" y="408.80" font-size="7.3" text-anchor="middle" textLength="11.7" lengthAdjust="spacingAndGlyphs" fill="#2e2e2e">256</text>
<text class="tt" x="136.09" y="408.80" font-size="7.3" text-anchor="middle" textLength="11.7" lengthAdjust="spacingAndGlyphs" fill="#2e2e2e">174</text>
<text class="tt" x="152.06" y="408.80" font-size="7.3" text-anchor="middle" textLength="11.7" lengthAdjust="spacingAndGlyphs" fill="#2e2e2e">105</text>
<text class="tt" x="168.03" y="408.80" font-size="7.3" text-anchor="middle" textLength="7.8" lengthAdjust="spacingAndGlyphs" fill="#2e2e2e">56</text>
<text class="tt" x="184.00" y="408.80" font-size="7.3" text-anchor="middle" textLength="7.8" lengthAdjust="spacingAndGlyphs" fill="#2e2e2e">32</text>
<text class="tt" x="199.98" y="408.80" font-size="7.3" text-anchor="middle" textLength="7.8" lengthAdjust="spacingAndGlyphs" fill="#2e2e2e">16</text>
<text class="tt" x="215.95" y="408.80" font-size="7.3" text-anchor="middle" textLength="3.9" lengthAdjust="spacingAndGlyphs" fill="#2e2e2e">6</text>
<text class="tt" x="231.92" y="408.80" font-size="7.3" text-anchor="middle" textLength="3.9" lengthAdjust="spacingAndGlyphs" fill="#2e2e2e">0</text>
<text class="tt" x="247.89" y="408.80" font-size="7.3" text-anchor="middle" textLength="3.9" lengthAdjust="spacingAndGlyphs" fill="#2e2e2e">0</text>
<text x="265.90" y="228.90" font-size="11" font-weight="bold" fill="#000">D</text>
<path d="M327.10,229.00V351.40H511.00" fill="none" stroke="#262626" stroke-width="1.4"/>
<path d="M324.00,348.10H327" stroke="#262626" stroke-width="1.1"/>
<text x="320.90" y="350.70" font-size="8.6" text-anchor="end" textLength="13.9" lengthAdjust="spacingAndGlyphs" fill="#2e2e2e">0.00</text>
<path d="M324.00,319.40H327" stroke="#262626" stroke-width="1.1"/>
<text x="320.90" y="322.00" font-size="8.6" text-anchor="end" textLength="13.9" lengthAdjust="spacingAndGlyphs" fill="#2e2e2e">0.25</text>
<path d="M324.00,290.70H327" stroke="#262626" stroke-width="1.1"/>
<text x="320.90" y="293.30" font-size="8.6" text-anchor="end" textLength="13.9" lengthAdjust="spacingAndGlyphs" fill="#2e2e2e">0.50</text>
<path d="M324.00,262.00H327" stroke="#262626" stroke-width="1.1"/>
<text x="320.90" y="264.60" font-size="8.6" text-anchor="end" textLength="13.9" lengthAdjust="spacingAndGlyphs" fill="#2e2e2e">0.75</text>
<path d="M324.00,233.30H327" stroke="#262626" stroke-width="1.1"/>
<text x="320.90" y="235.90" font-size="8.6" text-anchor="end" textLength="13.9" lengthAdjust="spacingAndGlyphs" fill="#2e2e2e">1.00</text>
<path d="M331.20,351.40V354.70" stroke="#262626" stroke-width="1.1"/>
<text x="331.20" y="363.50" font-size="8.5" text-anchor="middle" textLength="4.0" lengthAdjust="spacingAndGlyphs" fill="#2e2e2e">0</text>
<path d="M347.17,351.40V354.70" stroke="#262626" stroke-width="1.1"/>
<text x="347.17" y="363.50" font-size="8.5" text-anchor="middle" textLength="8.2" lengthAdjust="spacingAndGlyphs" fill="#2e2e2e">12</text>
<path d="M363.14,351.40V354.70" stroke="#262626" stroke-width="1.1"/>
<text x="363.14" y="363.50" font-size="8.5" text-anchor="middle" textLength="8.2" lengthAdjust="spacingAndGlyphs" fill="#2e2e2e">24</text>
<path d="M379.12,351.40V354.70" stroke="#262626" stroke-width="1.1"/>
<text x="379.12" y="363.50" font-size="8.5" text-anchor="middle" textLength="8.2" lengthAdjust="spacingAndGlyphs" fill="#2e2e2e">36</text>
<path d="M395.09,351.40V354.70" stroke="#262626" stroke-width="1.1"/>
<text x="395.09" y="363.50" font-size="8.5" text-anchor="middle" textLength="8.2" lengthAdjust="spacingAndGlyphs" fill="#2e2e2e">48</text>
<path d="M411.06,351.40V354.70" stroke="#262626" stroke-width="1.1"/>
<text x="411.06" y="363.50" font-size="8.5" text-anchor="middle" textLength="8.2" lengthAdjust="spacingAndGlyphs" fill="#2e2e2e">60</text>
<path d="M427.03,351.40V354.70" stroke="#262626" stroke-width="1.1"/>
<text x="427.03" y="363.50" font-size="8.5" text-anchor="middle" textLength="8.2" lengthAdjust="spacingAndGlyphs" fill="#2e2e2e">72</text>
<path d="M443.00,351.40V354.70" stroke="#262626" stroke-width="1.1"/>
<text x="443.00" y="363.50" font-size="8.5" text-anchor="middle" textLength="8.2" lengthAdjust="spacingAndGlyphs" fill="#2e2e2e">84</text>
<path d="M458.98,351.40V354.70" stroke="#262626" stroke-width="1.1"/>
<text x="458.98" y="363.50" font-size="8.5" text-anchor="middle" textLength="8.2" lengthAdjust="spacingAndGlyphs" fill="#2e2e2e">96</text>
<path d="M474.95,351.40V354.70" stroke="#262626" stroke-width="1.1"/>
<text x="474.95" y="363.50" font-size="8.5" text-anchor="middle" textLength="11.8" lengthAdjust="spacingAndGlyphs" fill="#2e2e2e">108</text>
<path d="M490.92,351.40V354.70" stroke="#262626" stroke-width="1.1"/>
<text x="490.92" y="363.50" font-size="8.5" text-anchor="middle" textLength="11.8" lengthAdjust="spacingAndGlyphs" fill="#2e2e2e">120</text>
<path d="M506.89,351.40V354.70" stroke="#262626" stroke-width="1.1"/>
<text x="506.89" y="363.50" font-size="8.5" text-anchor="middle" textLength="11.8" lengthAdjust="spacingAndGlyphs" fill="#2e2e2e">132</text>
<text x="419.00" y="376.90" font-size="9" text-anchor="middle" textLength="100.4" lengthAdjust="spacingAndGlyphs" fill="#2e2e2e">Time since landmark (months)</text>
<text transform="translate(299.90,290.50) rotate(-90)" font-size="9" text-anchor="middle" textLength="51.5" lengthAdjust="spacingAndGlyphs" fill="#2e2e2e">Proportion alive</text>
<text x="398.50" y="297.10" font-size="7.7" text-anchor="middle" textLength="34.6" lengthAdjust="spacingAndGlyphs" fill="#2e2e2e">3-year OS</text>
<text x="398.50" y="306.30" font-size="7.7" text-anchor="middle" textLength="129.3" lengthAdjust="spacingAndGlyphs" fill="#2e2e2e">iHD-MTX: 88.3% (95% CI: 85.2–90.8)</text>
<text x="398.50" y="315.50" font-size="7.7" text-anchor="middle" textLength="111.1" lengthAdjust="spacingAndGlyphs" fill="#2e2e2e">EOT: 91.5% (95% CI: 88.7–93.6)</text>
<path d="M331.20,233.30H340.52H340.91V233.50H341.68V233.68H342.46V233.87H343.23V234.07H344.01V234.25H344.79V234.45H345.18H345.57V234.63H346.37V234.82H347.17V235.00H347.97V235.18H348.77V235.37H349.17H349.63V235.97H350.57V236.59H351.50V237.20H351.96H352.34V237.39H353.10V237.56H353.87V237.74H354.63V237.93H355.39V238.11H356.15V238.28H356.91V238.47H357.29H357.69V238.86H358.49V239.25H359.28V239.64H360.08V240.03H360.88V240.42H361.28H361.67V240.60H362.45V240.77H363.23V240.96H364.01V241.14H364.79V241.32H365.57V241.50H366.35V241.68H366.74H367.12V241.94H367.88V242.21H368.64V242.47H369.40V242.73H370.16V242.99H370.92V243.25H371.68V243.52H372.06H372.45V243.62H373.23V243.71H374.01V243.82H374.79V243.91H375.57V244.01H376.35V244.10H377.13V244.21H377.52H377.93V244.27H378.77V244.34H379.60V244.42H380.43V244.49H381.26V244.56H382.09V244.64H382.93V244.71H383.76V244.78H384.17H384.59V245.06H385.41V245.33H386.24V245.61H387.06V245.88H387.89V246.16H388.30H388.70V246.71H389.50V247.26H390.30V247.81H391.09V248.36H391.89V248.91H392.29H392.73V249.31H393.59V249.72H394.02H394.44V249.95H395.26V250.18H396.09V250.41H396.91V250.63H397.74V250.86H398.15H398.53V251.05H399.29V251.22H400.05V251.40H400.81V251.59H401.57V251.77H402.33V251.94H403.09V252.13H403.47H403.87V252.36H404.67V252.59H405.47V252.82H406.27V253.05H407.07V253.28H407.47H407.88V253.30H408.71V253.32H409.54V253.36H410.36V253.38H411.19V253.40H412.02V253.42H412.85V253.46H413.68V253.48H414.51V253.50H414.92H415.36V254.31H416.25V255.11H417.14V255.92H417.58H417.97V255.96H418.75V256.02H419.53V256.06H420.31V256.11H421.09V256.16H421.87V256.21H422.65V256.26H423.04H423.45V256.68H424.29V257.12H425.12V257.55H425.95V257.98H426.37H426.75V258.11H427.51V258.25H428.27V258.37H429.03V258.51H429.79V258.64H430.55V258.77H431.31V258.90H431.69H432.13V259.59H433.02V260.28H433.91V260.97H434.35H450.46H450.46V263.03H468.16H468.16V267.40H506.89" fill="none" stroke="#1d466e" stroke-width="1.4" stroke-linejoin="miter"/>
<path d="M331.20,233.30H340.52H341.02V233.70H342.01V234.10H342.51H342.91V234.49H343.71V234.88H344.51V235.27H345.31V235.66H346.11V236.06H346.51H346.92V236.61H347.74V237.16H348.57V237.71H349.39V238.26H350.22V238.81H350.63H351.01V239.09H351.77V239.37H352.53V239.65H353.29V239.92H354.06V240.20H354.82V240.49H355.58V240.76H355.96H356.34V241.09H357.10V241.42H357.86V241.75H358.62V242.07H359.38V242.40H360.14V242.73H360.90V243.06H361.28H361.67V243.30H362.45V243.55H363.23V243.79H364.01V244.05H364.79V244.29H365.57V244.54H366.35V244.78H366.74H367.12V245.08H367.88V245.37H368.64V245.66H369.40V245.96H370.16V246.26H370.92V246.55H371.68V246.85H372.06H372.49V247.10H373.33V247.36H374.18V247.63H375.03V247.88H375.88V248.13H376.73V248.40H377.58V248.66H378.43V248.91H378.85H379.23V249.19H379.99V249.48H380.75V249.75H381.51V250.03H382.27V250.30H383.03V250.59H383.79V250.86H384.17H384.59V251.21H385.41V251.55H386.24V251.90H387.06V252.24H387.89V252.59H388.30H388.69V252.80H389.48V253.02H390.26V253.24H391.04V253.46H391.83V253.67H392.61V253.88H393.39V254.10H394.18V254.32H394.96V254.54H395.35H395.74V254.61H396.52V254.69H397.30V254.76H398.08V254.84H398.86V254.91H399.64V254.99H400.42V255.05H401.20V255.12H401.98V255.20H402.76V255.27H403.54V255.35H404.32V255.42H405.10V255.50H405.88V255.57H406.27H406.87V258.21H407.47H407.87V258.62H408.66V259.04H409.46V259.45H410.26V259.86H411.06V260.28H411.46H411.84V260.39H412.59V260.51H413.34V260.62H414.10V260.74H414.85V260.85H415.61V260.97H416.36V261.08H417.12V261.20H417.87V261.31H418.25H418.65V261.68H419.45V262.05H420.24V262.41H421.04V262.78H421.84V263.15H422.24H490.52" fill="none" stroke="#bd1538" stroke-width="1.4" stroke-linejoin="miter"/>
<path d="M408.10,330.00h17.8" stroke="#1d466e" stroke-width="1.4"/>
<path d="M408.10,339.90h17.8" stroke="#bd1538" stroke-width="1.4"/>
<text class="tl" x="429.70" y="332.30" font-size="7.6" textLength="83.6" lengthAdjust="spacingAndGlyphs" fill="#2e2e2e">End of treatment HDMTX</text>
<text class="tl" x="429.70" y="342.00" font-size="7.6" textLength="67.1" lengthAdjust="spacingAndGlyphs" fill="#2e2e2e">Intercalated HDMTX</text>
<text class="tt" x="322.00" y="388.60" font-size="7.3" text-anchor="end" textLength="48.5" lengthAdjust="spacingAndGlyphs" fill="#2e2e2e">Number at risk</text>
<text class="tt" x="321.60" y="399.00" font-size="7.3" text-anchor="end" textLength="55.9" lengthAdjust="spacingAndGlyphs" fill="#2e2e2e">End of treatment</text>
<text class="tt" x="321.20" y="408.80" font-size="7.3" text-anchor="end" textLength="38.2" lengthAdjust="spacingAndGlyphs" fill="#2e2e2e">Intercalated</text>
<text class="tt" x="331.20" y="399.00" font-size="7.3" text-anchor="middle" textLength="11.7" lengthAdjust="spacingAndGlyphs" fill="#2e2e2e">599</text>
<text class="tt" x="347.17" y="399.00" font-size="7.3" text-anchor="middle" textLength="11.7" lengthAdjust="spacingAndGlyphs" fill="#2e2e2e">558</text>
<text class="tt" x="363.14" y="399.00" font-size="7.3" text-anchor="middle" textLength="11.7" lengthAdjust="spacingAndGlyphs" fill="#2e2e2e">432</text>
<text class="tt" x="379.12" y="399.00" font-size="7.3" text-anchor="middle" textLength="11.7" lengthAdjust="spacingAndGlyphs" fill="#2e2e2e">307</text>
<text class="tt" x="395.09" y="399.00" font-size="7.3" text-anchor="middle" textLength="11.7" lengthAdjust="spacingAndGlyphs" fill="#2e2e2e">213</text>
<text class="tt" x="411.06" y="399.00" font-size="7.3" text-anchor="middle" textLength="11.7" lengthAdjust="spacingAndGlyphs" fill="#2e2e2e">142</text>
<text class="tt" x="427.03" y="399.00" font-size="7.3" text-anchor="middle" textLength="7.8" lengthAdjust="spacingAndGlyphs" fill="#2e2e2e">84</text>
<text class="tt" x="443.00" y="399.00" font-size="7.3" text-anchor="middle" textLength="7.8" lengthAdjust="spacingAndGlyphs" fill="#2e2e2e">52</text>
<text class="tt" x="458.98" y="399.00" font-size="7.3" text-anchor="middle" textLength="7.8" lengthAdjust="spacingAndGlyphs" fill="#2e2e2e">33</text>
<text class="tt" x="474.95" y="399.00" font-size="7.3" text-anchor="middle" textLength="7.8" lengthAdjust="spacingAndGlyphs" fill="#2e2e2e">17</text>
<text class="tt" x="490.92" y="399.00" font-size="7.3" text-anchor="middle" textLength="3.9" lengthAdjust="spacingAndGlyphs" fill="#2e2e2e">6</text>
<text class="tt" x="506.89" y="399.00" font-size="7.3" text-anchor="middle" textLength="3.9" lengthAdjust="spacingAndGlyphs" fill="#2e2e2e">1</text>
<text class="tt" x="331.20" y="408.80" font-size="7.3" text-anchor="middle" textLength="11.7" lengthAdjust="spacingAndGlyphs" fill="#2e2e2e">654</text>
<text class="tt" x="347.17" y="408.80" font-size="7.3" text-anchor="middle" textLength="11.7" lengthAdjust="spacingAndGlyphs" fill="#2e2e2e">601</text>
<text class="tt" x="363.14" y="408.80" font-size="7.3" text-anchor="middle" textLength="11.7" lengthAdjust="spacingAndGlyphs" fill="#2e2e2e">404</text>
<text class="tt" x="379.12" y="408.80" font-size="7.3" text-anchor="middle" textLength="11.7" lengthAdjust="spacingAndGlyphs" fill="#2e2e2e">283</text>
<text class="tt" x="395.09" y="408.80" font-size="7.3" text-anchor="middle" textLength="11.7" lengthAdjust="spacingAndGlyphs" fill="#2e2e2e">187</text>
<text class="tt" x="411.06" y="408.80" font-size="7.3" text-anchor="middle" textLength="11.7" lengthAdjust="spacingAndGlyphs" fill="#2e2e2e">110</text>
<text class="tt" x="427.03" y="408.80" font-size="7.3" text-anchor="middle" textLength="7.8" lengthAdjust="spacingAndGlyphs" fill="#2e2e2e">64</text>
<text class="tt" x="443.00" y="408.80" font-size="7.3" text-anchor="middle" textLength="7.8" lengthAdjust="spacingAndGlyphs" fill="#2e2e2e">38</text>
<text class="tt" x="458.98" y="408.80" font-size="7.3" text-anchor="middle" textLength="7.8" lengthAdjust="spacingAndGlyphs" fill="#2e2e2e">20</text>
<text class="tt" x="474.95" y="408.80" font-size="7.3" text-anchor="middle" textLength="3.9" lengthAdjust="spacingAndGlyphs" fill="#2e2e2e">7</text>
<text class="tt" x="490.92" y="408.80" font-size="7.3" text-anchor="middle" textLength="3.9" lengthAdjust="spacingAndGlyphs" fill="#2e2e2e">0</text>
<text class="tt" x="506.89" y="408.80" font-size="7.3" text-anchor="middle" textLength="3.9" lengthAdjust="spacingAndGlyphs" fill="#2e2e2e">0</text>
</svg>
</body></html>
